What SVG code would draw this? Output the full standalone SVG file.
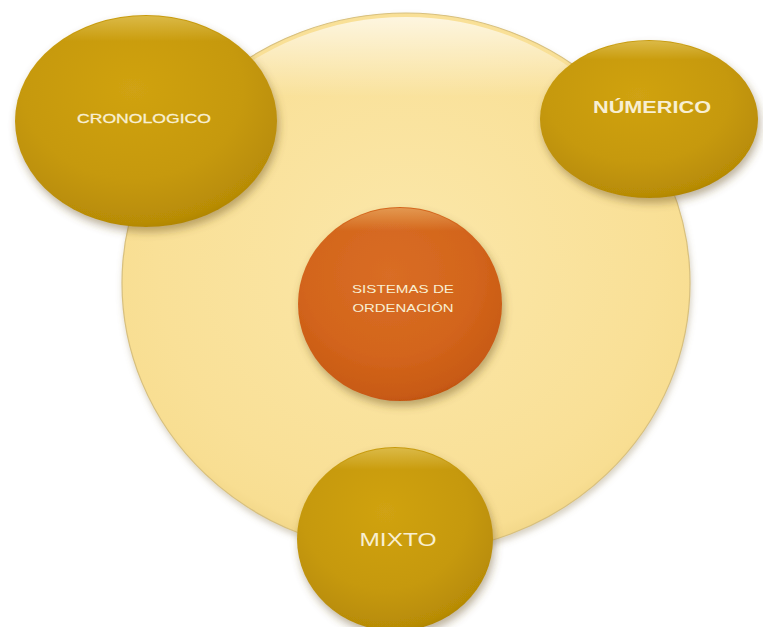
<svg xmlns="http://www.w3.org/2000/svg" width="763" height="627" viewBox="0 0 763 627">
  <style>
    .lbl { font-family: "Liberation Sans", Arial, sans-serif; fill: #f8efd2; text-anchor: middle; dominant-baseline: central; }
    .gloss { fill: url(#gloss); }
  </style>
  <defs>
    <radialGradient id="bgFill" cx="50%" cy="45%" r="55%">
      <stop offset="0" stop-color="#fbe7a9"/>
      <stop offset="0.8" stop-color="#f9e097"/>
      <stop offset="0.95" stop-color="#f8de92"/>
      <stop offset="1" stop-color="#f2d789"/>
    </radialGradient>
    <linearGradient id="rim" x1="0" y1="0" x2="0" y2="1">
      <stop offset="0" stop-color="#ffffff" stop-opacity="0.7"/>
      <stop offset="0.15" stop-color="#ffffff" stop-opacity="0"/>
    </linearGradient>
    <linearGradient id="gloss" x1="0" y1="0" x2="0" y2="1">
      <stop offset="0" stop-color="#fff2b0" stop-opacity="0.35"/>
      <stop offset="0.12" stop-color="#fff2b0" stop-opacity="0"/>
    </linearGradient>
    <radialGradient id="gold" cx="45%" cy="35%" r="70%">
      <stop offset="0" stop-color="#d0a212"/>
      <stop offset="0.6" stop-color="#c6990b"/>
      <stop offset="0.9" stop-color="#b88c06"/>
      <stop offset="1" stop-color="#a67e04"/>
    </radialGradient>
    <radialGradient id="orange" cx="45%" cy="35%" r="70%">
      <stop offset="0" stop-color="#d96d25"/>
      <stop offset="0.6" stop-color="#d3651c"/>
      <stop offset="0.9" stop-color="#c85a13"/>
      <stop offset="1" stop-color="#b84e0d"/>
    </radialGradient>
    <filter id="shadow" x="-20%" y="-20%" width="140%" height="150%">
      <feDropShadow dx="2" dy="5" stdDeviation="4" flood-color="#6b5420" flood-opacity="0.45"/>
    </filter>
    <filter id="softShadow" x="-10%" y="-10%" width="120%" height="125%">
      <feDropShadow dx="1" dy="4" stdDeviation="3" flood-color="#8a7a50" flood-opacity="0.35"/>
    </filter>
  </defs>

  <rect width="763" height="627" fill="#ffffff"/>

  <!-- base disc -->
  <g id="base">
    <ellipse cx="406" cy="283" rx="284" ry="270" fill="url(#bgFill)" stroke="#d8c07e" stroke-width="1.2" filter="url(#softShadow)"/>
    <ellipse cx="406" cy="283" rx="280" ry="266" fill="url(#rim)"/>
  </g>

  <g id="connectors"></g>

  <g id="center">
    <ellipse cx="400" cy="304" rx="102" ry="97" fill="url(#orange)" filter="url(#shadow)"/>
    <ellipse class="gloss" cx="400" cy="304" rx="101" ry="96"/>
    <text class="lbl" x="403" y="289" font-size="11" textLength="102" lengthAdjust="spacingAndGlyphs">SISTEMAS DE</text>
    <text class="lbl" x="403" y="308" font-size="11" textLength="101" lengthAdjust="spacingAndGlyphs">ORDENACIÓN</text>
  </g>

  <g id="cronologico">
    <ellipse cx="146" cy="121" rx="131" ry="106" fill="url(#gold)" filter="url(#shadow)"/>
    <ellipse class="gloss" cx="146" cy="121" rx="130" ry="105"/>
    <text class="lbl" x="144" y="118" font-size="13" textLength="134" lengthAdjust="spacingAndGlyphs" stroke="#f8efd2" stroke-width="0.3">CRONOLOGICO</text>
  </g>

  <g id="numerico">
    <ellipse cx="649" cy="119" rx="109" ry="79" fill="url(#gold)" filter="url(#shadow)"/>
    <ellipse class="gloss" cx="649" cy="119" rx="108" ry="78"/>
    <text class="lbl" x="652" y="107" font-size="16" font-weight="bold" textLength="118" lengthAdjust="spacingAndGlyphs">NÚMERICO</text>
  </g>

  <g id="mixto">
    <ellipse cx="395" cy="539" rx="98" ry="92" fill="url(#gold)" filter="url(#shadow)"/>
    <ellipse class="gloss" cx="395" cy="539" rx="97" ry="91"/>
    <text class="lbl" x="398" y="539" font-size="19" textLength="77" lengthAdjust="spacingAndGlyphs">MIXTO</text>
  </g>
</svg>
